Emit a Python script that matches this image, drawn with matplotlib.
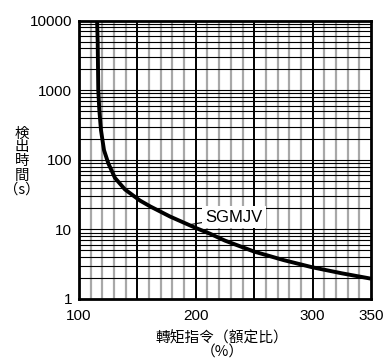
import matplotlib
matplotlib.use("Agg")
import matplotlib.pyplot as plt
from matplotlib.ticker import FixedLocator, NullFormatter

# Data
torque_pct = [115.5, 116.0, 116.5, 117.4, 118.8, 121.4, 125.1, 130.8, 139.4, 152.2, 161, 178, 200, 212, 225, 250, 275, 300, 325, 350]
detect_s = [10000, 5000, 1000, 520, 268, 138, 89, 55, 37.5, 26, 21.4, 15.3, 10.5, 8.7, 6.9, 4.8, 3.63, 2.85, 2.34, 1.96]
x_ticks = [100, 200, 300, 350]
y_ticks = [1, 10, 100, 1000, 10000]
y_tick_labels = ["1", "10", "100", "1000", "10000"]
series_label = "SGMJV"
x_title = "轉矩指令（額定比）"
x_unit = "（%）"
y_title_chars = ["検", "出", "時", "間", "（s）"]

cjk = ["Noto Sans CJK TC", "DejaVu Sans"]
num_font = "Liberation Sans"

fig = plt.figure(figsize=(3.85, 3.59), dpi=100)
ax = fig.add_axes([79/385, 1-299/359, (371-79)/385, (299-20.7)/359])
ax.set_xlim(100, 350)
ax.set_yscale("log")
ax.set_ylim(1, 10000)

# grid
for v in range(110, 350, 10):
    if v % 50 == 0:
        continue
    ax.axvline(v, color="#a8a8a8", lw=1.6, zorder=1)
for v in [150, 200, 250, 300]:
    ax.axvline(v, color="black", lw=1.4, zorder=2)
for dec in [1, 10, 100, 1000]:
    for m in range(1, 10):
        ax.axhline(dec*m, color="black", lw=0.8, zorder=2)

ax.plot(torque_pct, detect_s, color="black", lw=2.8, zorder=4,
        solid_capstyle="butt", solid_joinstyle="round")

for s in ax.spines.values():
    s.set_linewidth(2)
    s.set_zorder(5)

ax.xaxis.set_major_locator(FixedLocator(x_ticks))
ax.xaxis.set_minor_locator(FixedLocator([]))
ax.set_xticklabels([str(v) for v in x_ticks], fontfamily=num_font, fontsize=11)
ax.yaxis.set_major_locator(FixedLocator(y_ticks))
ax.yaxis.set_minor_locator(FixedLocator([]))
ax.yaxis.set_minor_formatter(NullFormatter())
ax.set_yticklabels(y_tick_labels, fontfamily=num_font, fontsize=11)
ax.tick_params(axis="x", length=0, pad=7)
ax.tick_params(axis="y", length=0, pad=5)

# series label with leader
ax.annotate(series_label, xy=(193.5, 11.6), xytext=(208, 15.0),
            fontfamily=num_font, fontsize=12, va="center", ha="left",
            bbox=dict(boxstyle="square,pad=0.2", fc="white", ec="none"),
            arrowprops=dict(arrowstyle="-", color="black", lw=0.8, shrinkA=0, shrinkB=0),
            zorder=6)

fig.text(222/385, 1-345.5/359, x_title + "\n" + x_unit, family=cjk, fontsize=10.6,
         fontweight="medium", ha="center", va="center", multialignment="center",
         linespacing=1.0)
fig.text(22/385, 1-161.5/359, "\n".join(y_title_chars), family=cjk, fontsize=10.4,
         fontweight="medium", ha="center", va="center", multialignment="center",
         linespacing=1.0)

fig.savefig("out.png", dpi=100)
